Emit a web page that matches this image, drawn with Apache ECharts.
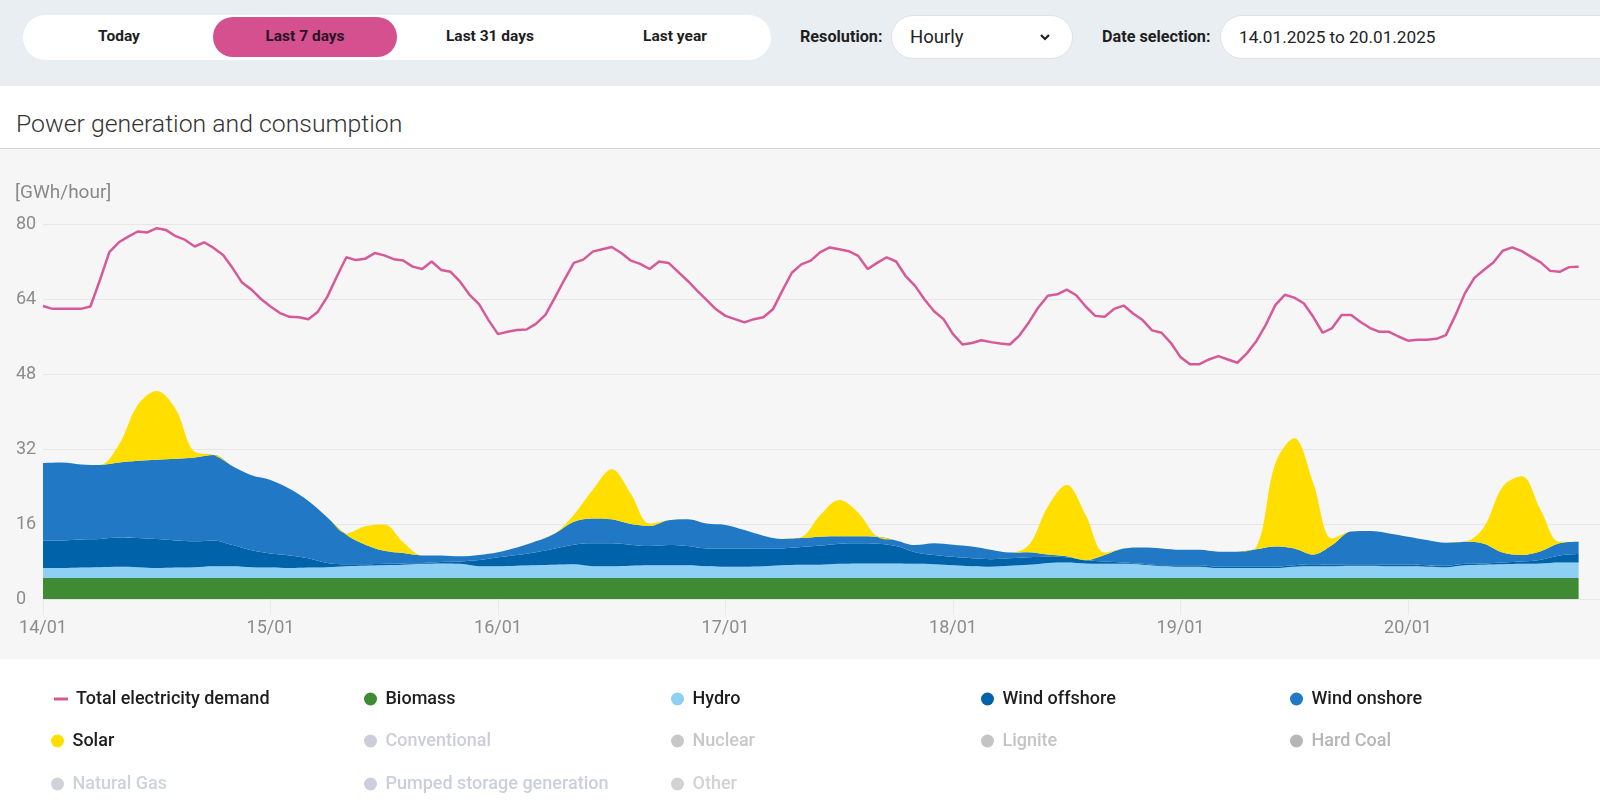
<!DOCTYPE html>
<html><head><meta charset="utf-8">
<script src="https://cdn.jsdelivr.net/npm/echarts@6/dist/echarts.min.js"></script>
<style>
html,body{margin:0;padding:0;width:1600px;height:806px;overflow:hidden;background:#fff;font-family:Roboto,"Noto Sans",sans-serif;}
.band{position:absolute;left:0;top:0;width:1600px;height:86px;background:#e9eef3;}
.tabs{position:absolute;left:23px;top:15px;width:748px;height:45px;background:#fff;border-radius:23px;}
.tab{position:absolute;top:0;height:45px;line-height:43px;font-weight:700;font-size:15.5px;color:#1e1e1e;transform:translateX(-50%);white-space:nowrap;}
.pill{position:absolute;left:190px;top:2px;width:184px;height:40px;border-radius:20px;background:#d4508f;}
.lbl{position:absolute;top:15px;height:45px;line-height:44px;font-weight:700;font-size:16.2px;color:#1e1e1e;white-space:nowrap;}
.box{position:absolute;top:15px;height:44px;border:1px solid #dde2e7;border-radius:22px;background:#fff;font-size:17.2px;color:#222;line-height:42px;box-sizing:border-box;padding-left:18px;white-space:nowrap;}
.title{position:absolute;left:16px;top:109px;font-size:24.8px;font-weight:300;color:#333;line-height:30px;white-space:nowrap;}
.sep{position:absolute;left:0;top:148px;width:1600px;height:1px;background:#d6d6d6;}
.panel{position:absolute;left:0;top:149px;width:1600px;height:510px;background:#f6f6f6;}
#chart{position:absolute;left:0;top:0;width:1640px;height:806px;}
</style></head>
<body>
<div class="band">
  <div class="tabs">
    <div class="pill"></div>
    <div class="tab" style="left:96px">Today</div>
    <div class="tab" style="left:282px;color:#2b1326">Last 7 days</div>
    <div class="tab" style="left:467px">Last 31 days</div>
    <div class="tab" style="left:652px">Last year</div>
  </div>
  <div class="lbl" style="left:800px">Resolution:</div>
  <div class="box" style="left:891px;width:182px;font-size:18.5px">Hourly
    <svg style="position:absolute;left:147px;top:17px" width="12" height="9" viewBox="0 0 12 9"><polyline points="2,2 6,6 10,2" fill="none" stroke="#222" stroke-width="2.2"/></svg>
  </div>
  <div class="lbl" style="left:1102px">Date selection:</div>
  <div class="box" style="left:1220px;width:420px">14.01.2025 to 20.01.2025</div>
</div>
<div class="title">Power generation and consumption</div>
<div class="sep"></div>
<div class="panel"></div>
<div id="chart"></div>
<script>
// x-axis tick labels (one per day)
const dayLabels = ['14/01','15/01','16/01','17/01','18/01','19/01','20/01'];

// Total electricity demand, hourly from 14/01 00:00 [GWh/hour]
const demand = [
 62.5,61.9,61.9,61.9,61.9,62.4,68.0,74.0,76.1,77.3,
 78.4,78.2,79.1,78.7,77.4,76.6,75.2,76.1,74.9,73.4,
 70.6,67.5,66.0,64.0,62.4,61.0,60.2,60.1,59.7,61.3,
 64.5,68.8,72.9,72.3,72.6,73.8,73.3,72.5,72.2,70.9,
 70.4,72.0,70.2,69.8,67.7,64.9,62.9,59.5,56.5,57.0,
 57.4,57.5,58.7,60.6,64.3,68.1,71.7,72.4,74.1,74.6,
 75.1,73.8,72.2,71.5,70.4,72.0,71.7,69.8,67.9,65.8,
 63.8,61.8,60.4,59.7,59.0,59.7,60.1,61.8,65.8,69.6,
 71.4,72.2,74.0,75.0,74.6,74.2,73.2,70.4,71.7,72.9,
 72.0,68.9,66.8,63.9,61.4,59.7,56.5,54.3,54.6,55.2,
 54.8,54.5,54.3,56.2,59.0,62.2,64.7,65.0,66.0,64.8,
 62.4,60.4,60.2,61.9,62.6,60.9,59.5,57.3,56.8,54.6,
 51.6,50.1,50.1,51.1,51.8,51.1,50.4,52.4,55.0,58.5,
 62.7,64.9,64.3,63.1,60.2,56.8,57.8,60.6,60.6,59.1,
 57.8,57.0,57.0,56.0,55.1,55.3,55.3,55.5,56.3,60.5,
 65.2,68.5,70.2,71.8,74.3,75.0,74.2,73.0,71.8,70.0,
 69.8,70.8,70.9
];

// Generation, every 2 hours from 14/01 00:00 [GWh/hour]
const biomass = [
 4.5,4.5,4.5,4.5,4.5,4.5,4.5,4.5,4.5,4.5,
 4.5,4.5,4.5,4.5,4.5,4.5,4.5,4.5,4.5,4.5,
 4.5,4.5,4.5,4.5,4.5,4.5,4.5,4.5,4.5,4.5,
 4.5,4.5,4.5,4.5,4.5,4.5,4.5,4.5,4.5,4.5,
 4.5,4.5,4.5,4.5,4.5,4.5,4.5,4.5,4.5,4.5,
 4.5,4.5,4.5,4.5,4.5,4.5,4.5,4.5,4.5,4.5,
 4.5,4.5,4.5,4.5,4.5,4.5,4.5,4.5,4.5,4.5,
 4.5,4.5,4.5,4.5,4.5,4.5,4.5,4.5,4.5,4.5,
 4.5,4.5
];
const hydro = [
 2.1,2.1,2.2,2.3,2.4,2.3,2.1,2.2,2.3,2.5,
 2.5,2.3,2.2,2.1,2.2,2.3,2.5,2.6,2.7,2.8,
 3.0,3.1,3.0,2.5,2.5,2.6,2.7,2.8,2.9,2.5,
 2.5,2.6,2.7,2.7,2.7,2.5,2.4,2.4,2.5,2.7,
 2.8,2.8,3.0,3.1,3.1,3.1,3.0,2.9,2.7,2.5,
 2.4,2.6,2.8,3.2,3.3,3.1,3.0,3.0,2.8,2.5,
 2.4,2.4,2.1,2.1,2.1,2.1,2.4,2.5,2.5,2.6,
 2.6,2.5,2.5,2.4,2.3,2.7,2.8,2.9,3.0,3.1,
 3.3,3.3
];
const windOffshore = [
 5.9,5.9,6.0,6.0,6.2,6.2,6.2,5.8,5.5,5.5,
 4.5,3.6,3.0,2.7,2.0,0.9,0.4,0.3,0.3,0.3,
 0.2,0.3,0.5,1.3,1.9,2.3,2.8,3.5,4.2,4.9,
 4.9,4.5,4.1,4.3,4.1,3.8,3.9,3.9,3.7,3.6,
 3.8,4.1,4.3,4.3,4.2,3.7,2.5,2.0,1.8,1.7,
 1.6,1.6,1.6,1.3,1.1,0.6,0.5,0.3,0.2,0.2,
 0.3,0.3,0.3,0.3,0.3,0.3,0.3,0.4,0.3,0.3,
 0.3,0.3,0.3,0.3,0.3,0.3,0.3,0.4,0.5,0.8,
 1.5,1.8
];
const windOnshore = [
 16.5,16.6,16.0,15.8,16.0,16.5,16.9,17.4,17.9,18.2,
 16.8,16.0,15.7,14.2,12.2,9.7,6.3,4.2,2.8,2.2,
 1.6,1.4,1.1,1.1,1.1,1.6,2.3,3.2,4.9,5.3,
 5.1,4.4,4.3,5.3,5.7,5.3,5.0,3.9,2.8,2.0,
 1.9,1.9,1.6,1.5,1.5,1.2,1.5,2.5,2.6,2.5,
 2.0,1.2,1.1,0.5,0.2,0.1,1.4,3.0,3.5,3.6,
 3.3,3.3,3.2,3.2,3.7,4.3,3.6,2.1,4.2,7.0,
 7.1,6.7,6.0,5.4,4.9,4.7,4.2,2.1,1.4,1.8,
 2.6,2.6
];
const solar = [
 0,0,0,0,3.8,11.9,14.7,10.6,1.2,0,
 0,0,0,0,0,0,0.3,3.9,5.6,2.3,
 0,0,0,0,0,0,0,0,1.5,6.1,
 10.7,6.5,0.5,0,0,0,0,0,0,0,
 0.2,4.6,7.7,5.0,0,0,0,0,0,0,
 0,0,1.5,10.2,15.2,9.6,0.5,0,0,0,
 0,0,0,0,0.5,17.7,23.5,15.3,1.4,0,
 0,0,0,0,0,0,3.5,14.1,16.8,8.8,
 0.3,0
];

const FONT = 'Roboto, "Noto Sans", sans-serif';
const HOUR = 3600 * 1000, DAY = 24 * HOUR;
const start = new Date(2025, 0, 14).getTime();
const hourly = arr => arr.map((v, i) => [start + i * HOUR, v]);
const twoHourly = arr => arr.map((v, i) => [start + i * 2 * HOUR, v]);

const stackSeries = [
  ['Biomass', biomass, '#3f8b34'],
  ['Hydro', hydro, '#8dd0f3'],
  ['Wind offshore', windOffshore, '#0062a8'],
  ['Wind onshore', windOnshore, '#2178c4'],
  ['Solar', solar, '#ffde00']
].map(([name, data, color]) => ({
  name, type: 'line', stack: 'gen', data: twoHourly(data), color,
  smooth: 0.35, showSymbol: false, symbol: 'none',
  lineStyle: { width: 0 }, areaStyle: { color, opacity: 1 }, z: 2
}));

const inactive = [
  ['Conventional', '#cdcdda'], ['Nuclear', '#c8c8c8'], ['Lignite', '#c4c4c4'],
  ['Hard Coal', '#b6b6b6'], ['Natural Gas', '#ccd3da'],
  ['Pumped storage generation', '#cbcfdd'], ['Other', '#d2d2d2']
];
const inactiveSeries = inactive.map(([name, c]) => ({ name, type: 'line', data: [], color: c }));

const legendLayout = [
  ['Total electricity demand', 0, 0], ['Biomass', 1, 0], ['Hydro', 2, 0], ['Wind offshore', 3, 0], ['Wind onshore', 4, 0],
  ['Solar', 0, 1], ['Conventional', 1, 1], ['Nuclear', 2, 1], ['Lignite', 3, 1], ['Hard Coal', 4, 1],
  ['Natural Gas', 0, 2], ['Pumped storage generation', 1, 2], ['Other', 2, 2]
];
const colX = [61, 374, 681, 991, 1300];
const rowY = [699, 741, 784];
const inactiveMap = Object.fromEntries(inactive);

const legends = legendLayout.map(([name, c, r]) => {
  const isDemand = name === 'Total electricity demand';
  const off = inactiveMap[name];
  return {
    data: [{ name, icon: isDemand ? 'rect' : 'circle' }],
    orient: 'horizontal',
    left: isDemand ? colX[c] - 7 : colX[c] - 10,
    top: rowY[r] - 10,
    padding: 0,
    itemWidth: isDemand ? 14 : 20,
    itemHeight: isDemand ? 3 : 13,
    itemStyle: { borderWidth: 0 },
    selected: { [name]: !off },
    inactiveColor: off || '#ccc',
    inactiveBorderWidth: 0,
    textStyle: {
      fontFamily: FONT, fontSize: 18, fontWeight: 500, color: '#1e1e1e', lineHeight: 20,
      padding: isDemand ? [0, 0, 0, 3] : 0
    }
  };
});

const chart = echarts.init(document.getElementById('chart'), null, { renderer: 'canvas' });
chart.setOption({
  animation: false,
  backgroundColor: 'transparent',
  title: {
    text: '[GWh/hour]', left: 15, top: 184, padding: 0,
    textStyle: { fontFamily: FONT, fontSize: 19, fontWeight: 'normal', color: '#8a8a8a' }
  },
  grid: { left: 43, top: 224, width: 1592.5, height: 375, outerBoundsMode: 'none', containLabel: false },
  xAxis: {
    type: 'time', min: start, max: start + 7 * DAY,
    minInterval: DAY, maxInterval: DAY, splitNumber: 7,
    axisLine: { show: true, lineStyle: { color: '#e6e6e6' } },
    axisTick: { show: true, length: 16, lineStyle: { color: '#e9e9e9' } },
    splitLine: { show: false },
    axisLabel: {
      margin: 20, color: '#8c8c8c', fontSize: 18, fontFamily: FONT,
      formatter: v => {
        const d = (v - start) / DAY;
        return Number.isInteger(d) && dayLabels[d] ? dayLabels[d] : '';
      }
    }
  },
  yAxis: {
    type: 'value', min: 0, max: 80, interval: 16,
    axisLine: { show: false }, axisTick: { show: false },
    splitLine: { lineStyle: { color: '#e6e6e6' } },
    axisLabel: { align: 'left', margin: 27, color: '#8c8c8c', fontSize: 18, fontFamily: FONT }
  },
  legend: legends,
  series: [
    ...stackSeries,
    {
      name: 'Total electricity demand', type: 'line', data: hourly(demand), color: '#d65a98',
      showSymbol: false, symbol: 'none', lineStyle: { width: 2.5, color: '#d65a98' }, z: 5
    },
    ...inactiveSeries
  ]
});
</script>
</body></html>
